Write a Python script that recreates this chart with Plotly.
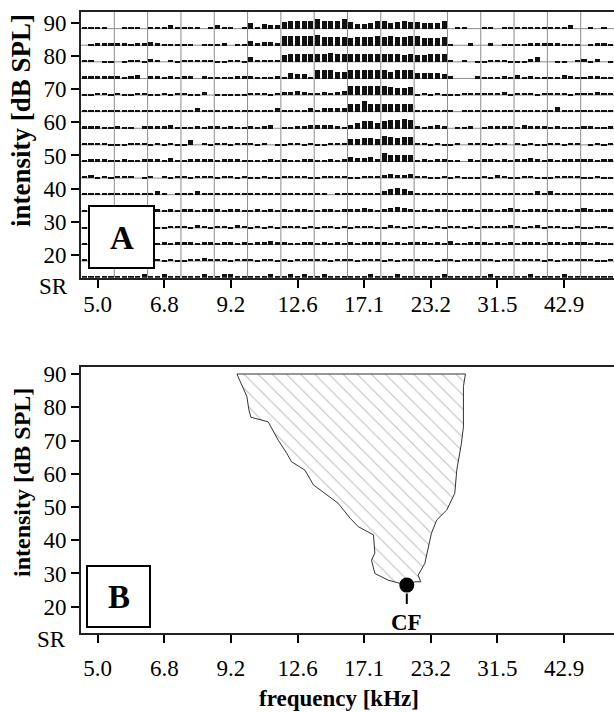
import plotly.graph_objects as go

W, H = 614, 712
SERIF = "Liberation Serif, Times New Roman, serif"

# frequency axis: 80 tone steps, labelled every 10th step
freq_tick_steps = [2, 12, 22, 32, 42, 52, 62, 72]
freq_tick_labels = ["5.0", "6.8", "9.2", "12.6", "17.1", "23.2", "31.5", "42.9"]

# intensity rows (dB SPL) of the response matrix, plus a spontaneous-rate row
levels_db = [90, 85, 80, 75, 70, 65, 60, 55, 50, 45, 40, 35, 30, 25, 20]
sr_level = 15
db_ticks = [20, 30, 40, 50, 60, 70, 80, 90]

# spike counts per tone step (5 steps per grid column), one string per level
rate_90 = "22210 01110 22131 11102 31102 52433 67777 87778 64457 75676 65557 01100 22011 11221 11130 01010"
rate_85 = "01222 22122 32111 11011 12011 42332 88888 97777 67778 78778 86667 10020 02011 11222 22111 01221"
rate_80 = "22011 01221 32021 22222 11221 42222 67777 77877 77777 77767 66777 20201 12221 11340 01102 31301"
rate_75 = "22222 21230 22121 22021 11122 21112 15441 77766 77777 76777 55554 20002 11121 31211 11321 12211"
rate_70 = "11221 21122 11212 21130 11111 22212 33432 23234 88888 87667 12121 11222 22231 22212 22212 22322"
rate_65 = "11222 21121 12212 11312 11121 21213 11123 23333 77977 77777 22222 20211 22212 21221 14111 21111"
rate_60 = "22211 21102 22231 11212 21211 21230 11223 33321 35665 67787 21232 01120 12222 13222 12111 22112"
rate_55 = "22221 11222 12121 14021 22122 21201 12212 11222 55665 87677 22121 12022 21220 21211 22122 01212"
rate_50 = "12221 12112 22131 12222 12221 11121 21122 11212 43342 76666 12122 11021 22121 22321 21222 22122"
rate_45 = "23121 22201 20212 21222 12212 11211 22221 12222 11222 34334 22112 12111 21321 12211 12222 11211"
rate_40 = "12212 11221 23102 12321 12212 21211 11221 12012 12222 35653 12211 11221 21222 22232 31211 22212"
rate_35 = "12222 12121 12121 22122 21221 12121 21221 12212 22321 23432 12122 11221 22123 21222 12212 32122"
rate_30 = "11221 21222 31122 21321 22132 12121 22212 12212 12221 13212 12121 22121 22223 21231 22112 11221"
rate_25 = "12221 22122 21212 22122 12212 12232 21122 12121 21222 21212 22121 31122 21212 12221 22122 21211"
rate_20 = "22122 21222 22121 12232 22122 21221 21222 22122 21222 12122 22212 21222 22122 22221 21222 22112"
rate_sr = "22222 22223 22322 22232 23322 22232 23232 23222 22232 22322 22223 22222 23222 22322 22322 22222"

# excitatory response area boundary (tone step, dB SPL)
area_freq_step = [22.9, 24.4, 24.7, 25.0, 27.6, 29.1, 30.4, 31.1, 33.1, 34.4, 36.1, 38.1,
                  39.9, 41.1, 43.4, 43.6, 43.1, 43.6, 45.6, 47.4, 48.9, 49.6, 50.5, 50.1,
                  51.1, 52.1, 52.9, 54.4, 55.6, 55.9, 56.6, 56.9, 56.9, 57.2]
area_db = [90.0, 83.2, 79.2, 77.0, 75.6, 70.1, 66.1, 63.6, 61.1, 56.6, 54.1, 51.1,
           46.6, 44.1, 41.6, 36.1, 34.0, 30.0, 28.0, 27.0, 26.8, 27.5, 27.5, 29.5,
           33.0, 42.1, 46.1, 49.1, 54.1, 61.1, 69.2, 74.1, 86.2, 90.0]

# characteristic frequency (tone step, dB SPL)
cf_freq_step = 48.4
cf_db = 26.5

# ---- drawing constants ----
N_STEPS = 80
STEPS_PER_COL = 5
BASE_OFFSET = 1.8      # histogram baseline sits just below its level
COUNT_SCALE = 0.36     # dB-axis units per spike


def px_x(p):
    return p / W


def px_y(p):
    return 1 - p / H


rows = [rate_90, rate_85, rate_80, rate_75, rate_70, rate_65, rate_60, rate_55,
        rate_50, rate_45, rate_40, rate_35, rate_30, rate_25, rate_20, rate_sr]
row_levels = levels_db + [sr_level]

xs, hs, bs = [], [], []
for level, row in zip(row_levels, rows):
    counts = [int(c) for c in row.replace(" ", "")]
    for step, n in enumerate(counts):
        xs.append(step)
        hs.append(n * COUNT_SCALE)
        bs.append(level - BASE_OFFSET)

fig = go.Figure()

fig.add_trace(go.Bar(
    x=xs, y=hs, base=bs, width=0.76,
    marker=dict(color="#111111", line=dict(width=0)),
    xaxis="x", yaxis="y", hoverinfo="skip", showlegend=False,
))

fig.add_trace(go.Scatter(
    x=area_freq_step + area_freq_step[:1], y=area_db + area_db[:1],
    mode="lines", fill="toself",
    fillcolor="white",
    fillpattern=dict(shape="\\", size=10, solidity=0.1, fgcolor="#7a7a7a", bgcolor="white"),
    line=dict(color="#333333", width=1),
    xaxis="x2", yaxis="y2", hoverinfo="skip", showlegend=False,
))

fig.add_trace(go.Scatter(
    x=[cf_freq_step], y=[cf_db], mode="markers",
    marker=dict(size=15, color="black"),
    xaxis="x2", yaxis="y2", hoverinfo="skip", showlegend=False,
))

shapes = []
# response-matrix grid
for k in range(1, N_STEPS // STEPS_PER_COL):
    xv = k * STEPS_PER_COL - 0.5
    shapes.append(dict(type="line", xref="x", yref="y domain", x0=xv, x1=xv, y0=0, y1=1,
                       line=dict(color="#8c8c8c", width=1), layer="below"))
for level in levels_db:
    yv = level - BASE_OFFSET
    shapes.append(dict(type="line", xref="x domain", yref="y", x0=0, x1=1, y0=yv, y1=yv,
                       line=dict(color="#8c8c8c", width=1), layer="below"))

# panel label boxes
shapes.append(dict(type="rect", xref="paper", yref="paper",
                   x0=px_x(89), x1=px_x(154), y0=px_y(268), y1=px_y(206),
                   fillcolor="white", line=dict(color="black", width=2), layer="above"))
shapes.append(dict(type="rect", xref="paper", yref="paper",
                   x0=px_x(87), x1=px_x(150), y0=px_y(627), y1=px_y(566),
                   fillcolor="white", line=dict(color="black", width=2), layer="above"))

# CF pointer
shapes.append(dict(type="line", xref="x2", yref="y2", x0=cf_freq_step, x1=cf_freq_step,
                   y0=cf_db - 2.5, y1=cf_db - 5.7, line=dict(color="black", width=2)))

annotations = [
    dict(text="<b>intensity [dB SPL]</b>", xref="paper", yref="paper",
         x=px_x(21), y=px_y(121), textangle=-90, showarrow=False,
         xanchor="center", yanchor="middle", font=dict(family=SERIF, size=27, color="black")),
    dict(text="<b>intensity [dB SPL]</b>", xref="paper", yref="paper",
         x=px_x(22), y=px_y(483), textangle=-90, showarrow=False,
         xanchor="center", yanchor="middle", font=dict(family=SERIF, size=24, color="black")),
    dict(text="<b>frequency [kHz]</b>", xref="paper", yref="paper",
         x=px_x(339), y=px_y(698), showarrow=False,
         xanchor="center", yanchor="middle", font=dict(family=SERIF, size=23, color="black")),
    dict(text="SR", xref="paper", yref="paper", x=px_x(70), y=px_y(286), showarrow=False,
         xanchor="right", yanchor="middle", font=dict(family=SERIF, size=23, color="black")),
    dict(text="SR", xref="paper", yref="paper", x=px_x(68), y=px_y(639), showarrow=False,
         xanchor="right", yanchor="middle", font=dict(family=SERIF, size=23, color="black")),
    dict(text="<b>A</b>", xref="paper", yref="paper", x=px_x(121.5), y=px_y(238), showarrow=False,
         xanchor="center", yanchor="middle", font=dict(family=SERIF, size=33, color="black")),
    dict(text="<b>B</b>", xref="paper", yref="paper", x=px_x(118.5), y=px_y(597), showarrow=False,
         xanchor="center", yanchor="middle", font=dict(family=SERIF, size=33, color="black")),
    dict(text="<b>CF</b>", xref="x2", yref="y2", x=cf_freq_step, y=cf_db, yshift=-37,
         showarrow=False, xanchor="center", yanchor="middle",
         font=dict(family=SERIF, size=23, color="black")),
]

tickfont = dict(family=SERIF, size=23, color="black")
x_common = dict(
    domain=[px_x(81), 1.0], range=[-0.5, N_STEPS - 0.5],
    tickmode="array", tickvals=freq_tick_steps, ticktext=freq_tick_labels,
    ticks="outside", ticklen=8, tickwidth=2, tickcolor="black",
    showline=True, linewidth=2, linecolor="#222222", mirror=True,
    showgrid=False, zeroline=False, tickfont=tickfont, automargin=False,
)
y_common = dict(
    tickmode="array", tickvals=db_ticks,
    ticks="outside", ticklen=8, tickwidth=2, tickcolor="black",
    showline=True, linewidth=2, linecolor="#222222", mirror=False,
    showgrid=False, zeroline=False, tickfont=tickfont, automargin=False,
)

fig.update_layout(
    width=W, height=H,
    margin=dict(l=0, r=0, t=0, b=0),
    paper_bgcolor="white", plot_bgcolor="white",
    showlegend=False, bargap=0,
    xaxis=dict(x_common, anchor="y", ticklabelstandoff=-3),
    yaxis=dict(y_common, anchor="x", domain=[px_y(277.7), px_y(11.7)], range=[13.2, 93.3]),
    xaxis2=dict(x_common, anchor="y2", ticklabelstandoff=5),
    yaxis2=dict(y_common, anchor="x2", domain=[px_y(633.3), px_y(366.7)], range=[12.0, 92.2]),
    shapes=shapes,
    annotations=annotations,
)

fig.write_html("out.html")
